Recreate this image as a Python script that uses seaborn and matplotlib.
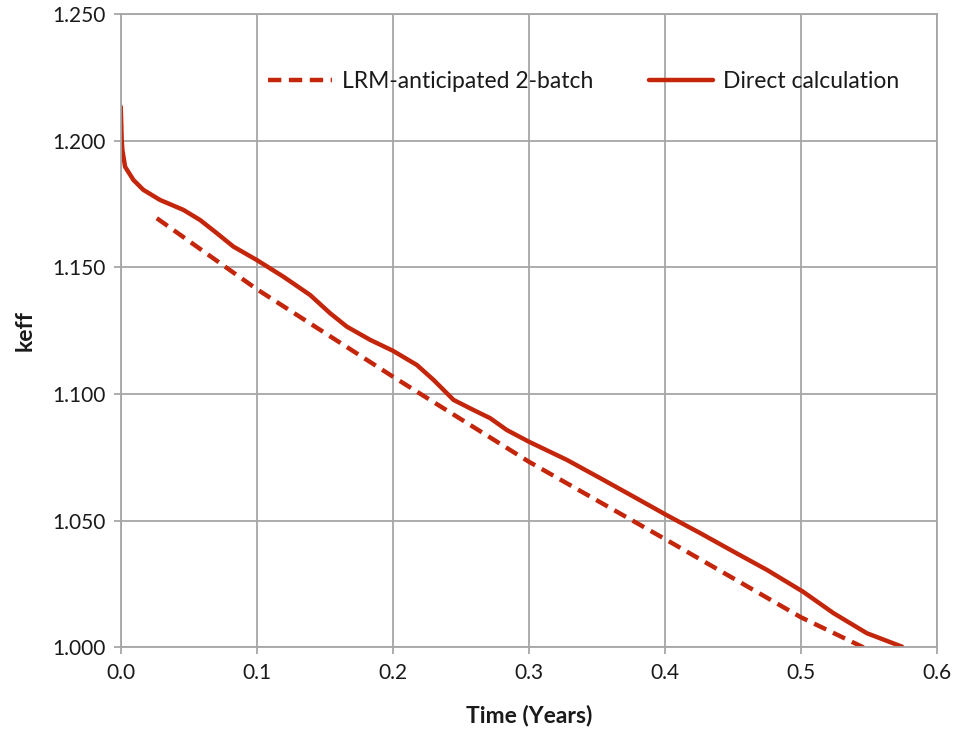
import matplotlib
matplotlib.use("Agg")
import matplotlib.pyplot as plt
import seaborn as sns
import pandas as pd
from matplotlib.ticker import FormatStrFormatter

# Direct calculation of keff versus irradiation time
direct_time = [0.0, 0.0007, 0.0012, 0.0032, 0.0093, 0.0166, 0.0289, 0.046, 0.0583,
               0.0706, 0.0828, 0.1, 0.1196, 0.1392, 0.1539, 0.1662, 0.1833, 0.2,
               0.2176, 0.2299, 0.2446, 0.2593, 0.2715, 0.2838, 0.3, 0.328, 0.3525,
               0.377, 0.401, 0.426, 0.4505, 0.475, 0.5015, 0.524, 0.5485, 0.5743]
direct_keff = [1.2134, 1.2003, 1.1963, 1.1897, 1.1845, 1.1806, 1.1766, 1.1727, 1.1687,
               1.1635, 1.1582, 1.1529, 1.1463, 1.1391, 1.1319, 1.1266, 1.1214, 1.1171,
               1.1115, 1.1056, 1.0977, 1.0937, 1.0905, 1.0858, 1.0812, 1.0740, 1.0668,
               1.0595, 1.0523, 1.0451, 1.0378, 1.0306, 1.0220, 1.0135, 1.0056, 1.0003]

# LRM-anticipated 2-batch prediction
lrm_time = [0.0265, 0.1, 0.2, 0.3, 0.4, 0.5, 0.546]
lrm_keff = [1.1694, 1.1414, 1.1069, 1.0733, 1.0428, 1.0119, 1.0000]

series_labels = ["LRM-anticipated 2-batch", "Direct calculation"]
x_ticks = [0.0, 0.1, 0.2, 0.3, 0.4, 0.5, 0.6]
y_ticks = [1.000, 1.050, 1.100, 1.150, 1.200, 1.250]

sns.set_theme(style="white")
plt.rcParams["font.family"] = ["Lato", "DejaVu Sans"]

red = "#c4260c"
grid_gray = "#a6a6a6"
text_color = "#1a1a1a"

fig = plt.figure(figsize=(9.59, 7.36), dpi=100)
ax = fig.add_axes([0.1259, 0.1203, 0.8512, 0.8607])

lrm_df = pd.DataFrame({"time": lrm_time, "keff": lrm_keff})
direct_df = pd.DataFrame({"time": direct_time, "keff": direct_keff})

sns.lineplot(data=lrm_df, x="time", y="keff", ax=ax, color=red, linewidth=3.2,
             label=series_labels[0], sort=False)
sns.lineplot(data=direct_df, x="time", y="keff", ax=ax, color=red, linewidth=3.2,
             label=series_labels[1], sort=False)
ax.lines[0].set_dashes([3.0, 1.7])
ax.lines[0].set_dash_capstyle("butt")
ax.lines[1].set_solid_joinstyle("round")

ax.set_xlim(0.0, 0.6)
ax.set_ylim(1.0, 1.25)
ax.set_xticks(x_ticks)
ax.set_yticks(y_ticks)
ax.xaxis.set_major_formatter(FormatStrFormatter("%.1f"))
ax.yaxis.set_major_formatter(FormatStrFormatter("%.3f"))

ax.grid(True, color=grid_gray, linewidth=1.3)
ax.set_axisbelow(True)
for side in ["left", "right", "top", "bottom"]:
    ax.spines[side].set_color(grid_gray)
    ax.spines[side].set_linewidth(1.3)

ax.tick_params(axis="both", which="major", direction="out", length=5, width=1.3,
               color=grid_gray, labelsize=15, labelcolor=text_color, pad=6,
               bottom=True, left=True)

ax.set_xlabel("Time (Years)", fontsize=16.5, fontweight="bold", color=text_color,
              labelpad=16)
ax.set_ylabel("keff", fontsize=16.5, fontweight="bold", color=text_color, labelpad=12)

leg = ax.legend(loc="center", bbox_to_anchor=(0.567, 0.893), ncol=2, frameon=False,
                fontsize=16.5, handlelength=2.8, handletextpad=0.45, columnspacing=2.4)
for txt in leg.get_texts():
    txt.set_color(text_color)

fig.savefig("out.png", dpi=100)
